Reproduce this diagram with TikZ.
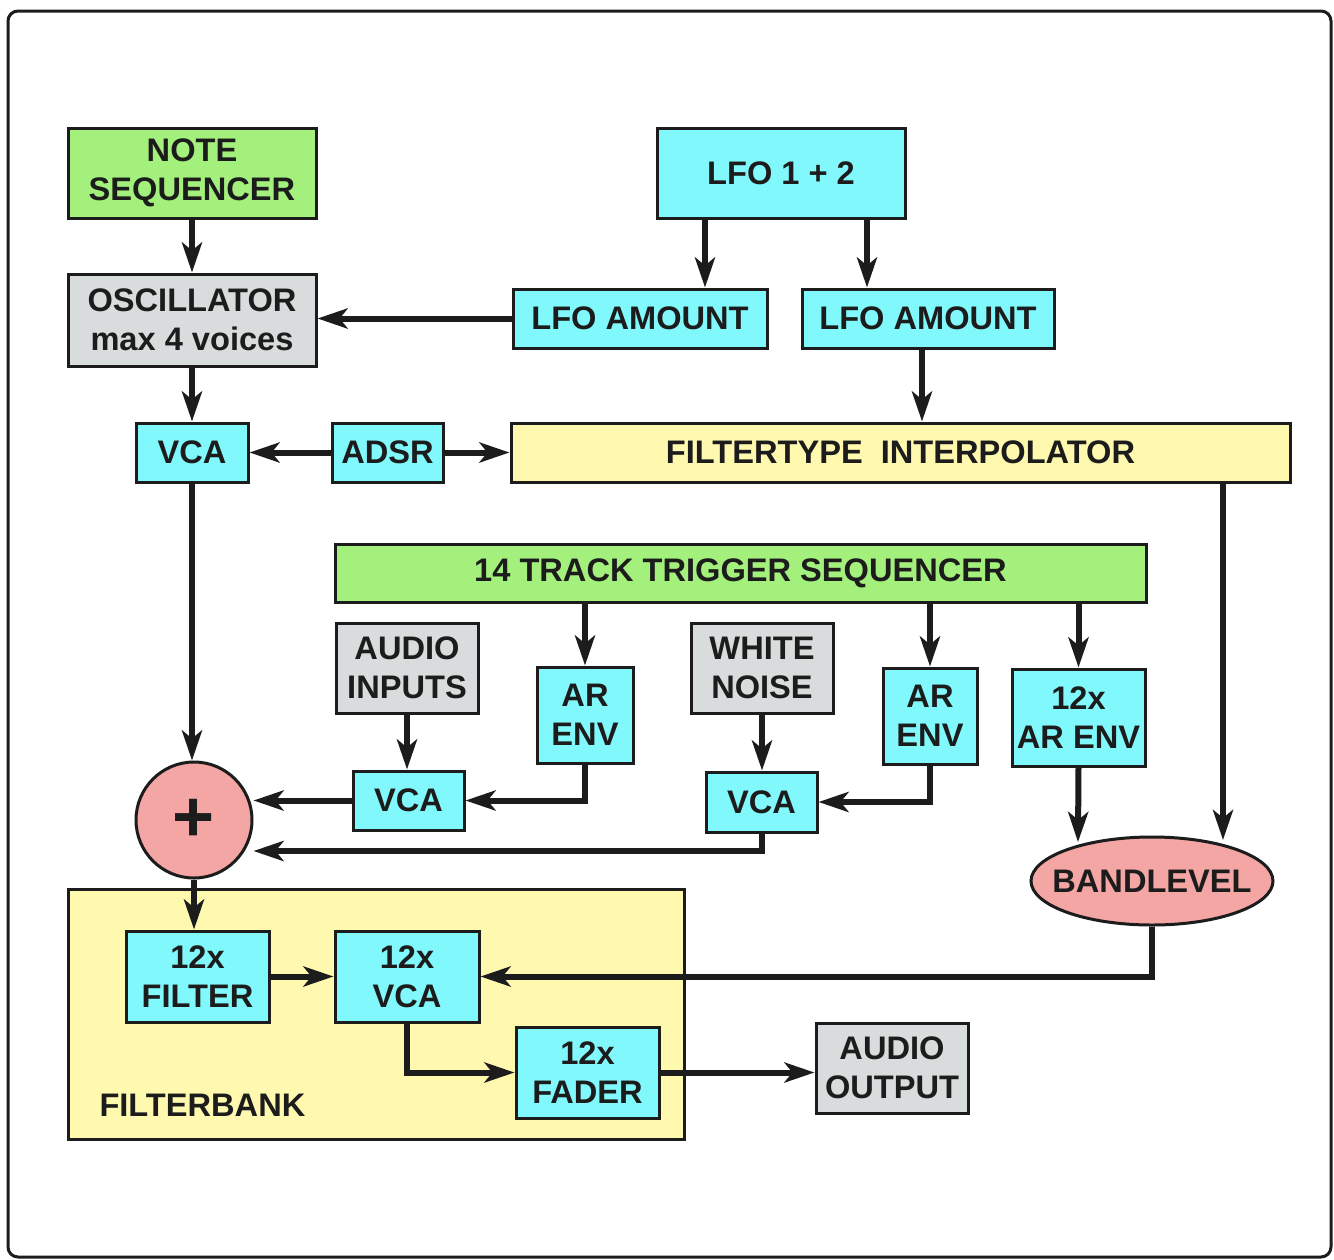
\documentclass[tikz,border=0pt]{standalone}
\usepackage{fontspec}
\setmainfont{Liberation Sans}
\usetikzlibrary{arrows.meta,shapes.geometric}
\definecolor{cy}{HTML}{80F8FC}
\definecolor{gr}{HTML}{A4F07C}
\definecolor{gy}{HTML}{D8DCDC}
\definecolor{yl}{HTML}{FFF9AF}
\definecolor{pk}{HTML}{F4A6A4}
\definecolor{ink}{HTML}{1C1C1C}
\begin{document}
\begin{tikzpicture}[x=0.5pt,y=-0.5pt,
  blk/.style={draw=ink, line width=1.5pt, inner sep=0pt, align=center, text=ink,
    font=\bfseries\fontsize{16.3}{19.5}\selectfont},
  sz/.style 2 args={minimum width={#1*0.5pt}, minimum height={#2*0.5pt}},
  cb/.style={blk, fill=cy},
  gb/.style={blk, fill=gr},
  yb/.style={blk, fill=yl},
  sb/.style={blk, fill=gy},
  pb/.style={blk, fill=pk},
  wire/.style={draw=ink, line width=3pt, -{Stealth[length=15pt,width=10pt,inset=4pt]}},
]
\useasboundingbox (0,0) rectangle (1334,1259);
\fill[white] (0,0) rectangle (1334,1259);
\draw[ink, line width=1.5pt, rounded corners=5pt] (8,11) rectangle (1331,1257);

% filterbank background
\node[yb, sz={616}{250}, anchor=north west] (fb) at (67,888) {};
\node[blk, draw=none, anchor=west] (fbl) at (98,1105) {FILTERBANK};

% top part
\node[gb, sz={248}{90}] (note) at (192,173) {NOTE\\SEQUENCER};
\node[sb, sz={248}{92}] (osc) at (192,320) {OSCILLATOR\\max 4 voices};
\node[cb, sz={112}{59}] (vca1) at (192,452.5) {VCA};
\node[cb, sz={111}{59}] (adsr) at (387.5,452.5) {ADSR};
\node[yb, sz={779}{59}] (filt) at (900.5,452.5) {FILTERTYPE\ \ INTERPOLATOR};
\node[cb, sz={248}{90}] (lfo) at (781,173) {LFO 1 + 2};
\node[cb, sz={254}{59}] (lfoa1) at (640,318.5) {LFO AMOUNT};
\node[cb, sz={252}{59}] (lfoa2) at (928,318.5) {LFO AMOUNT};

% middle
\node[gb, sz={811}{58}] (trig) at (740.5,573) {14 TRACK TRIGGER SEQUENCER};
\node[sb, sz={142}{90}] (ain) at (407,668) {AUDIO\\INPUTS};
\node[cb, sz={96}{96}] (env1) at (585,715) {AR\\ENV};
\node[sb, sz={142}{90}] (wn) at (762,668) {WHITE\\NOISE};
\node[cb, sz={94}{96}] (env2) at (930,716) {AR\\ENV};
\node[cb, sz={133}{97}] (env12) at (1078.5,717.5) {12x\\AR ENV};
\node[pb, ellipse, sz={242}{88}] (band) at (1152,881) {\makebox[0pt]{BANDLEVEL}};
\node[cb, sz={111}{59}] (vca2) at (408.5,800.5) {VCA};
\node[cb, sz={111}{60}] (vca3) at (761.5,802) {VCA};
\node[pb, circle, minimum size=58pt, font=\bfseries\fontsize{36}{36}\selectfont] (plus) at (194,820) {\raisebox{-1.5pt}{+}};

% filterbank
\node[cb, sz={143}{91}] (f12) at (197.5,976.5) {12x\\FILTER};
\node[cb, sz={144}{91}] (v12) at (407,976.5) {12x\\VCA};
\node[cb, sz={143}{91}] (fad) at (587.5,1072.5) {12x\\FADER};
\node[sb, sz={152}{90}] (aout) at (892,1068) {AUDIO\\OUTPUT};

% helper coordinates
\coordinate (xa) at (705,0);
\coordinate (xb) at (867,0);
\coordinate (xc) at (922,0);
\coordinate (xd) at (1223,0);
\coordinate (bt) at (1223,840);
\coordinate (be) at (1078,842);
\coordinate (yw) at (0,851);

% connectors
\draw[wire] (note.south) -- (osc.north);
\draw[wire] (osc.south) -- (vca1.north);
\draw[wire] (lfoa1.west) -- (lfoa1.west -| osc.east);
\draw[wire] (lfo.south -| xa) -- (lfoa1.north -| xa);
\draw[wire] (lfo.south -| xb) -- (lfoa2.north -| xb);
\draw[wire] (lfoa2.south -| xc) -- (filt.north -| xc);
\draw[wire] (adsr.west) -- (vca1.east);
\draw[wire] (adsr.east) -- (filt.west);
\draw[wire] (vca1.south) -- (vca1.south |- plus.north);
\draw[wire] (ain.south) -- (ain.south |- vca2.north);
\draw[wire] (trig.south -| env1.north) -- (env1.north);
\draw[wire] (env1.south) |- (vca2.east);
\draw[wire] (trig.south -| env2.north) -- (env2.north);
\draw[wire] (wn.south) -- (wn.south |- vca3.north);
\draw[wire] (env2.south) |- (vca3.east);
\draw[wire] (trig.south -| env12.north) -- (env12.north);
\draw[wire] (vca2.west) -- (vca2.west -| plus.east);
\draw[wire] (vca3.south) |- (plus.east |- yw);
\draw[wire] (plus.south) -- (plus.south |- f12.north);
\draw[wire] (f12.east) -- (f12.east -| v12.west);
\draw[wire] (v12.south) |- (fad.west);
\draw[wire] (fad.east) -- (fad.east -| aout.west);
\draw[wire] (filt.south -| xd) -- (bt);
\draw[wire] (env12.south) -- (be);
\draw[wire] (band.south) |- (v12.east);
\end{tikzpicture}
\end{document}
